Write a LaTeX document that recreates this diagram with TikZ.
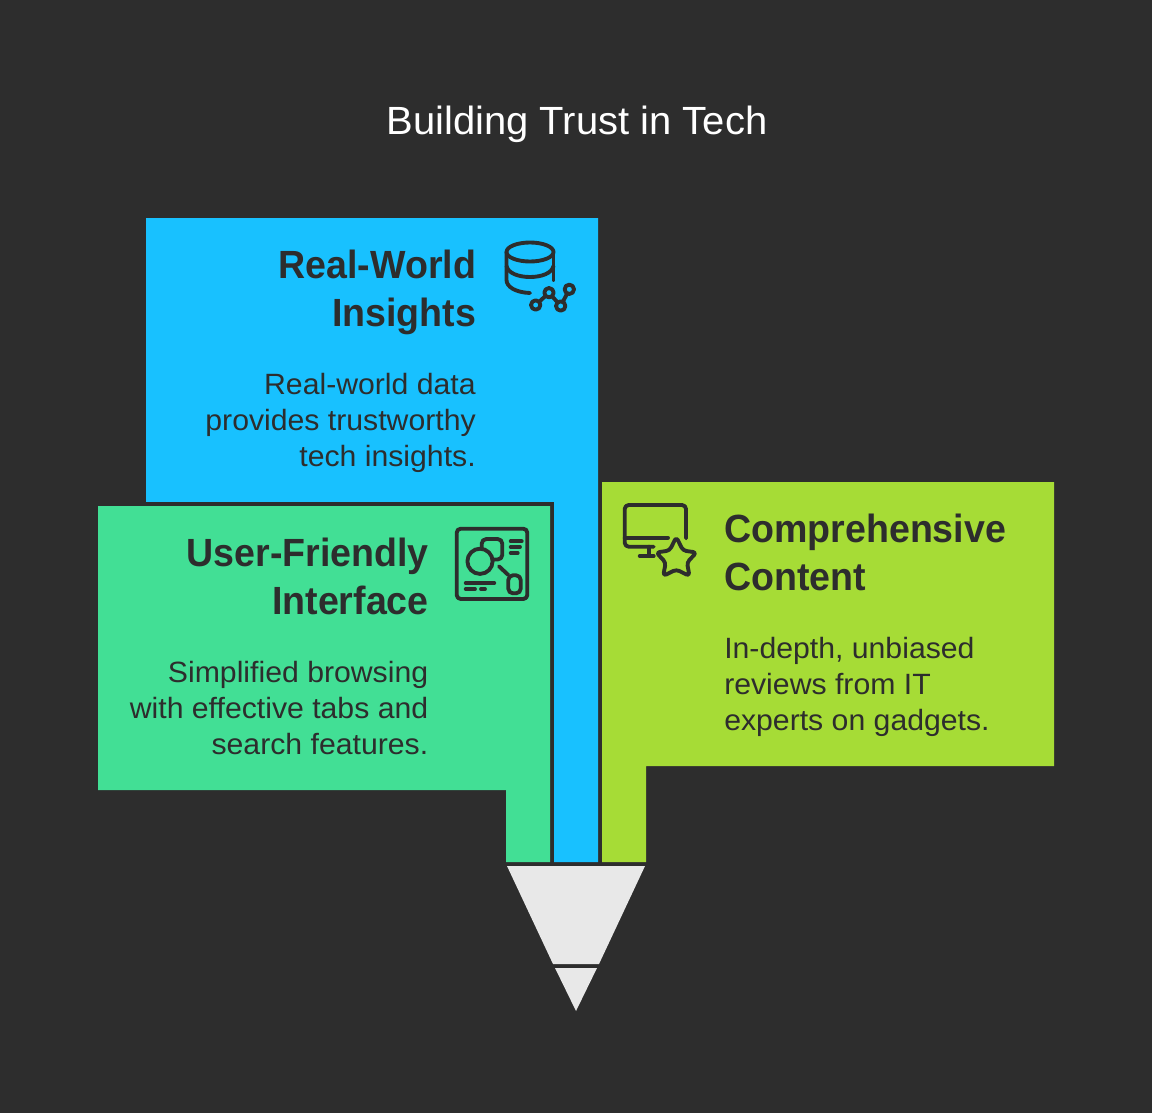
\documentclass[tikz,border=0pt]{standalone}
\usepackage{fontspec}
\setmainfont{Liberation Sans}
\newfontfamily\headfam[FakeStretch=0.955]{Liberation Sans}
\newfontfamily\bodyfam[FakeStretch=1.03]{Liberation Sans}
\newfontfamily\titlefam[FakeStretch=1.016]{Liberation Sans}
\definecolor{bgd}{HTML}{2D2D2D}
\definecolor{skyc}{HTML}{18C1FF}
\definecolor{mintc}{HTML}{42DF95}
\definecolor{limec}{HTML}{A6DC36}
\definecolor{tipc}{HTML}{E8E8E8}
\tikzset{
  headr/.style={text=bgd,inner sep=0pt,anchor=north east,align=right,font=\headfam\fontsize{29.5}{36}\selectfont\bfseries},
  headl/.style={text=bgd,inner sep=0pt,anchor=north west,align=left,font=\headfam\fontsize{29.5}{36}\selectfont\bfseries},
  bodyr/.style={text=bgd,inner sep=0pt,anchor=north east,align=right,font=\bodyfam\fontsize{22}{27}\selectfont},
  bodyl/.style={text=bgd,inner sep=0pt,anchor=north west,align=left,font=\bodyfam\fontsize{22}{27}\selectfont},
  icon/.style={draw=bgd,line width=2.9pt,line cap=round,line join=round,fill=none},
}
\begin{document}
\begin{tikzpicture}[x=0.75pt,y=-0.75pt]
\useasboundingbox (0,0) rectangle (1152,1113);
\fill[bgd] (0,0) rectangle (1152,1113);
\node[text=white,inner sep=0pt,anchor=center,font=\titlefam\fontsize{29.5}{36}\selectfont] (title) at (577,124) {Building Trust in Tech};
% blue
\fill[skyc] (146,218) -- (598,218) -- (598,862) -- (554,862) -- (554,502) -- (146,502) -- cycle;
% green
\fill[bgd] (98,502) rectangle (554,506);
\fill[mintc] (98,506) -- (550,506) -- (550,862) -- (506,862) -- (506,790) -- (98,790) -- cycle;
% lime
\fill[limec] (602,482) -- (1054,482) -- (1054,766) -- (646,766) -- (646,862) -- (602,862) -- cycle;
% tip
\fill[tipc] (507,866) -- (645,866) -- (599,964) -- (553,964) -- cycle;
\fill[tipc] (555,968) -- (597,968) -- (576,1011) -- cycle;
% texts
\node[headr] (h1) at (476.5,249.5) {Real-World\\Insights};
\node[bodyr] (b1) at (476,373) {Real-world data\\provides trustworthy\\tech insights.};
\node[headr] (h2) at (429,537.5) {User-Friendly\\Interface};
\node[bodyr] (b2) at (428.5,661) {Simplified browsing\\with effective tabs and\\search features.};
\node[headl] (h3) at (724,513.5) {Comprehensive\\Content};
\node[bodyl] (b3) at (724,637) {In-depth, unbiased\\reviews from IT\\experts on gadgets.};
% icon 1
\begin{scope}[icon]
\draw (530,252) ellipse (23.5 and 9.5);
\draw (506.5,252) -- (506.5,280) .. controls (506.5,287) and (516,292.5) .. (530,293);
\draw (553.5,252) -- (553.5,280);
\draw (506.5,266) .. controls (508,273) and (518,277) .. (530,277) .. controls (542,277) and (552,273) .. (553.5,266);
\draw (535.7,305) circle (4.7);
\draw (549,292.7) circle (4.7);
\draw (560.7,306) circle (4.7);
\draw (569.3,289.3) circle (4.7);
\draw (539.2,301.8) -- (545.5,295.9);
\draw (552,296.3) -- (557.7,302.4);
\draw (562.8,301.8) -- (567.2,293.5);
\end{scope}
% icon 2
\begin{scope}[icon]
\draw[rounded corners=3pt] (456.7,528.7) rectangle (527.3,599);
\draw (480,561.3) circle (12.6);
\draw[rounded corners=3.5pt] (481.7,548) -- (481.7,539) -- (502.3,539) -- (502.3,559.5) -- (493,559.5);
\draw (510.7,541.3) -- (521.7,541.3);
\draw (510.7,547) -- (520,547);
\draw (510.7,553) -- (517.7,553);
\draw (499,566.3) -- (508.3,575);
\draw[rounded corners=3.5pt] (508.3,575.3) rectangle (520.7,593.3);
\draw (465.7,583) -- (494.3,583);
\draw (465.7,589) -- (475,589);
\draw (481,589) -- (485,589);
\end{scope}
% icon 3
\begin{scope}[icon]
\draw[rounded corners=3pt] (686,538.3) -- (686,505) -- (624.7,505) -- (624.7,546.7) -- (653.7,546.7);
\draw (624.7,537.7) -- (668,537.7);
\draw (648.7,546.7) -- (648.7,556);
\draw (639.7,556) -- (653.7,556);
\draw[rounded corners=2.5pt] (676.3,537) -- (683,550.5) -- (696.5,552.5) -- (687,562.5) -- (689.5,576) -- (676.3,569.5) -- (663.2,576) -- (665.7,562.5) -- (656.2,552.5) -- (669.6,550.5) -- cycle;
\end{scope}
\end{tikzpicture}
\end{document}
